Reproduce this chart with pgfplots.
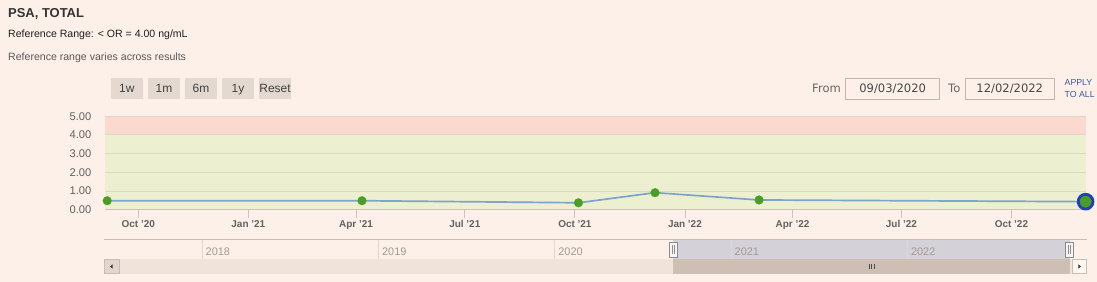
\documentclass[border=0pt]{standalone}
\usepackage{pgfplots}
\pgfplotsset{compat=1.18}
\usepackage{fontspec}
\setmainfont{Liberation Sans}
\newfontfamily\uifont{DejaVu Sans}

\definecolor{pagebg}{HTML}{FDF0E8}
\definecolor{bandhigh}{HTML}{FCD9CF}
\definecolor{bandnorm}{HTML}{ECEFD0}
\definecolor{gridc}{HTML}{D9D9C6}
\definecolor{axisc}{HTML}{CBC2BA}
\definecolor{linec}{HTML}{7EA4CE}
\definecolor{markc}{HTML}{4A9E26}
\definecolor{lastring}{HTML}{1E3FC0}
\definecolor{btnc}{HTML}{E4D9D1}
\definecolor{boxc}{HTML}{C2B6AE}
\definecolor{applyc}{HTML}{3B5A9A}
\definecolor{navsel}{HTML}{D5D1D9}
\definecolor{navline}{HTML}{C8BEB6}
\definecolor{yearline}{HTML}{E2D6CE}
\definecolor{yeartext}{HTML}{A39A93}
\definecolor{trackc}{HTML}{EFE3DA}
\definecolor{thumbc}{HTML}{CEBFB5}

% page background sits below every axis layer
\pgfdeclarelayer{page}
\pgfdeclarelayer{axis background}
\pgfdeclarelayer{axis grid}
\pgfdeclarelayer{axis ticks}
\pgfdeclarelayer{axis lines}
\pgfdeclarelayer{axis tick labels}
\pgfdeclarelayer{pre main}
\pgfdeclarelayer{axis descriptions}
\pgfdeclarelayer{axis foreground}
\pgfsetlayers{page,axis background,axis grid,axis ticks,axis lines,axis tick labels,pre main,main,axis descriptions,axis foreground}
\pgfplotsset{
  layers/with page/.define layer set={
    page,axis background,axis grid,axis ticks,axis lines,axis tick labels,
    pre main,main,axis descriptions,axis foreground
  }{},
}

% Dates are days after 1 Oct 2020; the view runs from 3 Sep 2020 to 2 Dec 2022.
\pgfplotstableread{
day  psa
-26  0.48
187  0.48
368  0.37
432  0.91
519  0.52
792  0.43
}\psadata

\begin{document}
\begin{tikzpicture}
\begin{pgfonlayer}{page}
  \fill[pagebg] (0,0) rectangle (1097bp,282bp);
\end{pgfonlayer}
\path (0,0) rectangle (1097bp,282bp);

\begin{scope}[x=1bp, y=-1bp, shift={(0bp,282bp)}]
  % header
  \node[anchor=base west, inner sep=0, text=black!80] at (8,17.3)
    {\fontsize{13}{15}\selectfont\bfseries PSA, TOTAL};
  \node[anchor=base west, inner sep=0, text=black!88] at (8,37.7)
    {\fontsize{10.6}{12}\selectfont Reference Range: < OR = 4.00 ng/mL};
  \node[anchor=base west, inner sep=0, text=black!65] at (8,61)
    {\fontsize{10.6}{12}\selectfont Reference range varies across results};

  % range buttons
  \foreach \xa/\xb/\lab in {111/142.7/1w, 148/180/1m, 185/217/6m, 222/254/1y, 259/291/Reset}{
    \fill[btnc] (\xa,78.3) rectangle (\xb,99.3);
    \node[anchor=base, inner sep=0, text=black!75] at ({(\xa+\xb)/2},92.7)
      {\fontsize{12}{14}\selectfont \lab};
  }

  % date range
  \node[anchor=base west, inner sep=0, text=black!60] at (812,92.3)
    {\uifont\fontsize{11.6}{13}\selectfont From};
  \draw[boxc, line width=0.8bp] (845.7,78.3) rectangle (939.7,99);
  \node[anchor=base, inner sep=0, text=black!72] at (892.7,92.3)
    {\uifont\fontsize{11.6}{13}\selectfont 09/03/2020};
  \node[anchor=base west, inner sep=0, text=black!60] at (948,92.3)
    {\uifont\fontsize{11.6}{13}\selectfont To};
  \draw[boxc, line width=0.8bp] (965.3,78.3) rectangle (1054.3,99);
  \node[anchor=base, inner sep=0, text=black!72] at (1009.8,92.3)
    {\uifont\fontsize{11.6}{13}\selectfont 12/02/2022};
  \node[anchor=base west, inner sep=0, text=applyc] at (1064.5,86)
    {\fontsize{8.8}{10}\selectfont APPLY};
  \node[anchor=base west, inner sep=0, text=applyc] at (1064.5,98)
    {\fontsize{8.8}{10}\selectfont TO ALL};

  % navigator
  \fill[navsel] (673,240) rectangle (1070,259);
  \draw[navline, line width=1bp] (104,240) -- (1087,240);
  \foreach \xl/\yr in {202/2018, 378.4/2019, 554.7/2020, 731/2021, 907.3/2022}{
    \draw[yearline, line width=0.8bp] (\xl,240.5) -- (\xl,259);
    \node[anchor=base west, inner sep=0, text=yeartext] at (\xl+3.5,255.3)
      {\fontsize{11}{13}\selectfont \yr};
  }
  \foreach \hx in {669.5, 1065.7}{
    \draw[fill=black!4, draw=black!45, line width=0.6bp] (\hx,242) rectangle (\hx+7.3,257);
    \draw[black!45, line width=0.5bp] (\hx+2.7,245) -- (\hx+2.7,254)
                                     (\hx+4.6,245) -- (\hx+4.6,254);
  }

  % scrollbar
  \fill[trackc] (104,259) rectangle (1087,274);
  \fill[thumbc] (673,259) rectangle (1070,274);
  \draw[black!70, line width=0.6bp] (869,264) -- (869,269) (871.5,264) -- (871.5,269) (874,264) -- (874,269);
  \draw[fill=black!6!trackc, draw=navline, line width=0.6bp] (104.5,259.5) rectangle (119,273.5);
  \fill[black!80] (110,266.5) -- (112.6,264.4) -- (112.6,268.6) -- cycle;
  \draw[fill=pagebg!60!white, draw=navline, line width=0.6bp] (1072.5,259.5) rectangle (1086.5,273.5);
  \fill[black!80] (1081,266.5) -- (1078.4,264.4) -- (1078.4,268.6) -- cycle;
\end{scope}

\begin{axis}[
  at={(104.8bp,72.3bp)}, anchor=south west,
  scale only axis, width=980.8bp, height=93.5bp,
  set layers=with page, clip=false,
  xmin=-28, xmax=792, ymin=0, ymax=5,
  axis x line*=bottom, axis y line*=left,
  x axis line style={axisc, line width=1bp, -},
  y axis line style={draw=none},
  xtick={0,92,182,273,365,457,547,638,730},
  xticklabels={Oct '20,Jan '21,Apr '21,Jul '21,Oct '21,Jan '22,Apr '22,Jul '22,Oct '22},
  tick align=outside,
  x tick style={axisc, line width=0.8bp},
  major tick length=8bp,
  xticklabel style={font=\fontsize{10}{12}\selectfont\bfseries, text=black!62, anchor=base, yshift=-10bp},
  ytick={0,1,2,3,4,5},
  y tick style={draw=none},
  yticklabel style={font=\fontsize{11.2}{13}\selectfont, text=black!62, xshift=-2bp,
    /pgf/number format/fixed, /pgf/number format/fixed zerofill,
    /pgf/number format/precision=2, /pgf/number format/assume math mode=true},
  ymajorgrids, grid style={gridc, line width=0.8bp},
]
% reference bands: normal 0-4, above range 4-5
\addplot[on layer=axis background, fill=bandnorm, draw=none]
  coordinates {(-28,0) (792,0) (792,4) (-28,4)} -- cycle;
\addplot[on layer=axis background, fill=bandhigh, draw=none]
  coordinates {(-28,4) (792,4) (792,5) (-28,5)} -- cycle;
% results line, then solid green dots on top
\addplot[linec, line width=1.7bp] table[x=day, y=psa] {\psadata};
\addplot[only marks, mark=*, mark size=4.4bp,
  mark options={solid, fill=markc, draw=markc, line width=0.2bp}]
  table[x=day, y=psa] {\psadata};
\addplot[only marks, mark=*, mark size=7.4bp,
  mark options={solid, fill=markc, draw=lastring, line width=2.8bp}]
  coordinates {(792,0.43)};
\end{axis}
\end{tikzpicture}
\end{document}
